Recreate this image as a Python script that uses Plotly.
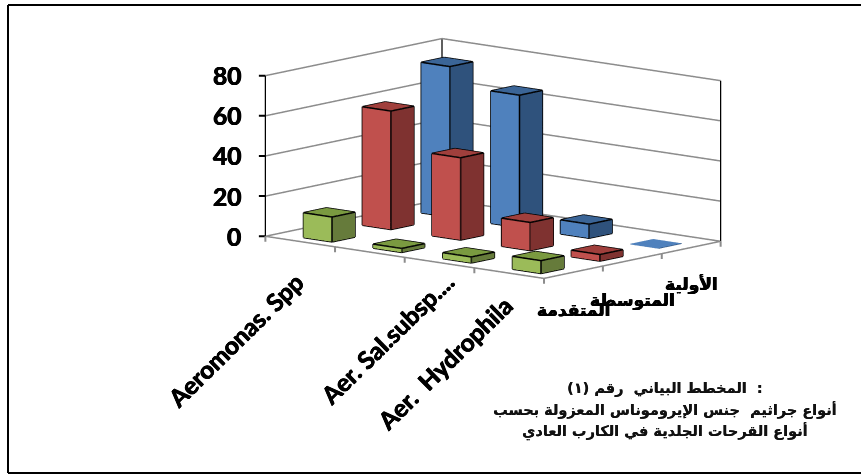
import plotly.graph_objects as go

# Isolate counts per ulcer stage and Aeromonas group
categories = ["Aeromonas. Spp", "", "Aer. Sal.subsp....", "Aer.  Hydrophila"]
stages = ["المتقدمة", "المتوسطة", "الأولية"]
advanced = [12.4, 2, 3, 6.4]
intermediate = [59, 41, 14, 3.3]
primary = [75, 66, 7, 0.3]
z_ticks = [0, 20, 40, 60, 80]
caption = ["المخطط البياني  رقم (١)  :",
           "أنواع جراثيم  جنس الإيروموناس المعزولة بحسب",
           "أنواع القرحات الجلدية في الكارب العادي"]

series = [advanced, intermediate, primary]
face_colors = [("#9bbb59", "#7a9a40", "#667b3b"),
               ("#c0504d", "#a03f3c", "#7f3230"),
               ("#4f81bd", "#3b6597", "#2f527c")]

BAR_START_X, BAR_W = 0.37, 0.41
BAR_START_Y, BAR_D = 0.21, 0.39
GRID = "#8c8c8c"
HEAVY = "0.5px 0 0 black, -0.4px 0 0 black, 0 0.3px 0 black"

fig = go.Figure()


def add_bar(x0, y0, h, colors):
    x1, y1 = x0 + BAR_W, y0 + BAR_D
    xs = [x0, x1, x1, x0, x0, x1, x1, x0]
    ys = [y0, y0, y1, y1, y0, y0, y1, y1]
    zs = [0, 0, 0, 0, h, h, h, h]
    front, top, side = colors
    flat = h < 0.5
    if flat:
        top = front
    tris = [(0, 1, 5, front), (0, 5, 4, front),   # facing the viewer
            (1, 2, 6, side), (1, 6, 5, side),     # right side
            (4, 5, 6, top), (4, 6, 7, top),       # lid
            (0, 2, 1, side), (0, 3, 2, side),
            (3, 7, 6, side), (3, 6, 2, side),
            (0, 4, 7, side), (0, 7, 3, side)]
    fig.add_trace(go.Mesh3d(
        x=xs, y=ys, z=zs,
        i=[t[0] for t in tris], j=[t[1] for t in tris], k=[t[2] for t in tris],
        facecolor=[t[3] for t in tris], flatshading=True,
        lighting=dict(ambient=1, diffuse=0, specular=0, roughness=1, fresnel=0),
        hoverinfo="skip", showscale=False))
    # near-zero bars stay a plain tinted patch without an outline
    if flat:
        return
    ex, ey, ez = [], [], []
    for a, b in [(0, 1), (1, 2), (0, 4), (1, 5), (2, 6), (4, 5), (5, 6), (6, 7), (7, 4)]:
        ex += [xs[a], xs[b], None]
        ey += [ys[a], ys[b], None]
        ez += [zs[a], zs[b], None]
    fig.add_trace(go.Scatter3d(x=ex, y=ey, z=ez, mode="lines",
                               line=dict(color="black", width=3),
                               hoverinfo="skip", showlegend=False))


for s, values in enumerate(series):
    for c, v in enumerate(values):
        add_bar(c + BAR_START_X, s + BAR_START_Y, v, face_colors[s])

n_cat, n_ser, z_max = len(categories), len(stages), z_ticks[-1]


def add_line(xs, ys, zs, color, width):
    fig.add_trace(go.Scatter3d(x=xs, y=ys, z=zs, mode="lines",
                               line=dict(color=color, width=width),
                               hoverinfo="skip", showlegend=False))


# wall gridlines at each value tick
for t in z_ticks:
    add_line([0, 0, n_cat], [0, n_ser, n_ser], [t, t, t], GRID, 3)
# floor edges towards the viewer
add_line([0, n_cat, n_cat], [0, 0, n_ser], [0, 0, 0], GRID, 3)
# dark vertical corners of the walls
for cx, cy in [(0, 0), (0, n_ser), (n_cat, n_ser)]:
    add_line([cx, cx], [cy, cy], [0, z_max], "black", 2.5)


def tick(x, y, z, ax, ay, color):
    return dict(x=x, y=y, z=z, text="", showarrow=True, arrowhead=0, arrowwidth=2,
                arrowcolor=color, ax=ax, ay=ay, standoff=0)


annotations = []
for t in z_ticks:
    annotations.append(tick(0, 0, t, -8, 0, "black"))
    annotations.append(dict(x=0, y=0, z=t, text=f"<b>{t}</b>", showarrow=False,
                            xanchor="right", yanchor="middle", xshift=-22,
                            font=dict(family="Lato", size=24.5, color="black", weight=700, shadow=HEAVY)))
for c in range(n_cat + 1):
    annotations.append(tick(c, 0, 0, 0, 7, GRID))
for s in range(1, n_ser + 1):
    annotations.append(tick(n_cat, s, 0, 0, 7, GRID))

label_shift = [(11, -23), None, (23, -2), (11, -15)]
for c, name in enumerate(categories):
    if name:
        dx, dy = label_shift[c]
        annotations.append(dict(x=c + 0.5, y=0, z=0, text=f"<b>{name}</b>", showarrow=False,
                                textangle=-44.5, xanchor="right", yanchor="top",
                                xshift=dx, yshift=dy,
                                font=dict(family="Lato", size=24.5, color="black", weight=700, shadow=HEAVY)))
stage_shift = [-26, -28, -25]
for s, name in enumerate(stages):
    annotations.append(dict(x=n_cat, y=s + 0.5, z=0, text=f"<b>{name}</b>", showarrow=False,
                            xanchor="center", yanchor="top", yshift=stage_shift[s],
                            font=dict(family="DejaVu Sans", size=17, color="black", weight=700, shadow=HEAVY)))


def plain_axis(**kw):
    return dict(title="", showbackground=False, showgrid=False, zeroline=False,
                showticklabels=False, showspikes=False, showline=False, ticks="", **kw)


fig.update_layout(
    width=861, height=475, margin=dict(l=0, r=0, t=0, b=0),
    paper_bgcolor="white", showlegend=False,
    scene=dict(
        domain=dict(x=[0.1452, 1], y=[0.333, 1]),
        aspectmode="manual", aspectratio=dict(x=2.305, y=1.723, z=1.03),
        camera=dict(projection=dict(type="orthographic"),
                    center=dict(x=0, y=0, z=0),
                    up=dict(x=0, y=0, z=1),
                    eye=dict(x=1.40, y=-1.651, z=0.392)),
        xaxis=plain_axis(range=[0, n_cat], tickmode="array", tickvals=list(range(n_cat + 1))),
        yaxis=plain_axis(range=[0, n_ser], tickmode="array", tickvals=list(range(n_ser + 1))),
        zaxis=plain_axis(range=[0, z_max], tickmode="array", tickvals=z_ticks),
        annotations=annotations,
    ),
    shapes=[dict(type="line", xref="paper", yref="paper", x0=8 / 861, x1=1, y0=1 - 5 / 475, y1=1 - 5 / 475,
                 line=dict(color="black", width=2)),
            dict(type="line", xref="paper", yref="paper", x0=8 / 861, x1=1, y0=1 - 473 / 475, y1=1 - 473 / 475,
                 line=dict(color="black", width=2)),
            dict(type="line", xref="paper", yref="paper", x0=8 / 861, x1=8 / 861, y0=1 - 5 / 475, y1=1 - 473 / 475,
                 line=dict(color="black", width=2))],
    annotations=[dict(xref="paper", yref="paper", x=665 / 861, y=1 - (388 + 21.5 * i) / 475,
                      text=f"<b>{line}</b>", showarrow=False, xanchor="center", yanchor="middle",
                      font=dict(family="DejaVu Sans", size=14.5, color="#111111", weight=700,
                                shadow="0.3px 0 0 #111111"))
                 for i, line in enumerate(caption)],
)

fig.write_html("out.html", config=dict(displayModeBar=False))
